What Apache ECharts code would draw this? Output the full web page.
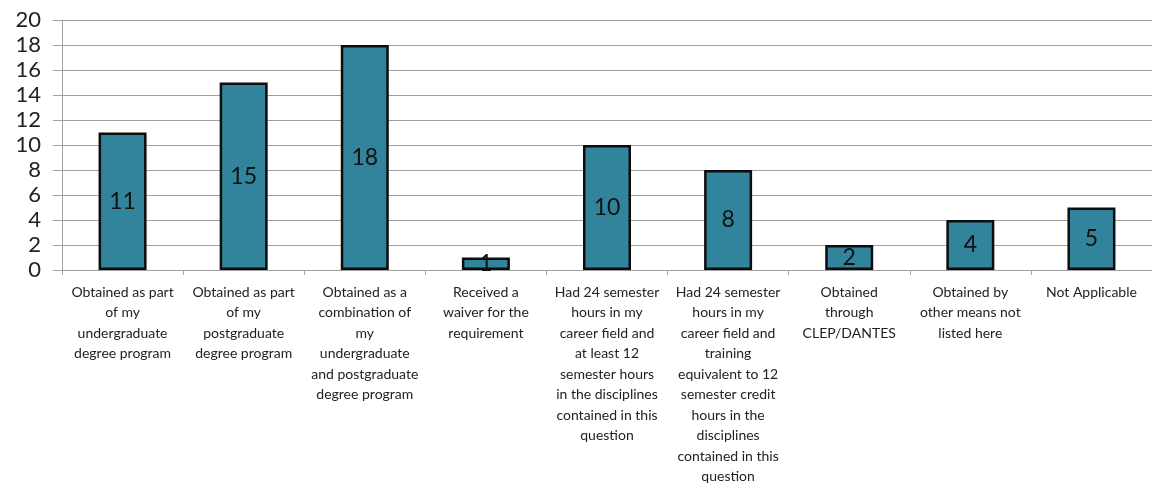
<!DOCTYPE html>
<html>
<head>
<meta charset="utf-8">
<script src="https://cdn.jsdelivr.net/npm/echarts@6/dist/echarts.min.js"></script>
<style>
  html, body { margin: 0; padding: 0; background: #fff; }
  #chart { width: 1152px; height: 487px; }
</style>
</head>
<body>
<div id="chart"></div>
<script>
// How the requirement was met (number of respondents)
const categories = [
  "Obtained as part\nof my\nundergraduate\ndegree program",
  "Obtained as part\nof my\npostgraduate\ndegree program",
  "Obtained as a\ncombination of\nmy\nundergraduate\nand postgraduate\ndegree program",
  "Received a\nwaiver for the\nrequirement",
  "Had 24 semester\nhours in my\ncareer field and\nat least 12\nsemester hours\nin the disciplines\ncontained in this\nquestion",
  "Had 24 semester\nhours in my\ncareer field and\ntraining\nequivalent to 12\nsemester credit\nhours in the\ndisciplines\ncontained in this\nquestion",
  "Obtained\nthrough\nCLEP/DANTES",
  "Obtained by\nother means not\nlisted here",
  "Not Applicable"
];
const counts = [11, 15, 18, 1, 10, 8, 2, 4, 5];

const axisGrey = '#a0a0a0';
const textColor = '#222222';
const fontFamily = 'Lato, "Open Sans", sans-serif';

const chart = echarts.init(document.getElementById('chart'), null, { renderer: 'canvas' });
chart.setOption({
  animation: false,
  grid: { left: 62, top: 20, width: 1094, height: 252, containLabel: false },
  xAxis: {
    type: 'category',
    data: categories,
    axisLine: { lineStyle: { color: axisGrey, width: 1 } },
    axisTick: { show: true, length: 5, alignWithLabel: false, lineStyle: { color: axisGrey } },
    axisLabel: {
      interval: 0,
      margin: 12,
      color: textColor,
      fontFamily: fontFamily,
      fontSize: 14,
      lineHeight: 20.5,
      align: 'center'
    }
  },
  yAxis: {
    type: 'value',
    min: 0,
    max: 20,
    interval: 2,
    axisLine: { show: true, lineStyle: { color: axisGrey, width: 1 } },
    axisTick: { show: true, length: 9, lineStyle: { color: axisGrey } },
    splitLine: { show: true, lineStyle: { color: axisGrey, width: 1 } },
    axisLabel: {
      margin: 21,
      color: textColor,
      fontFamily: fontFamily,
      fontSize: 22
    }
  },
  series: [{
    type: 'bar',
    data: counts,
    barWidth: 48,
    itemStyle: { color: '#31849b', borderColor: '#0d0d0d', borderWidth: 2.5 },
    label: {
      show: true,
      position: 'inside',
      color: '#111111',
      fontFamily: fontFamily,
      fontSize: 23
    }
  }]
});
</script>
</body>
</html>
